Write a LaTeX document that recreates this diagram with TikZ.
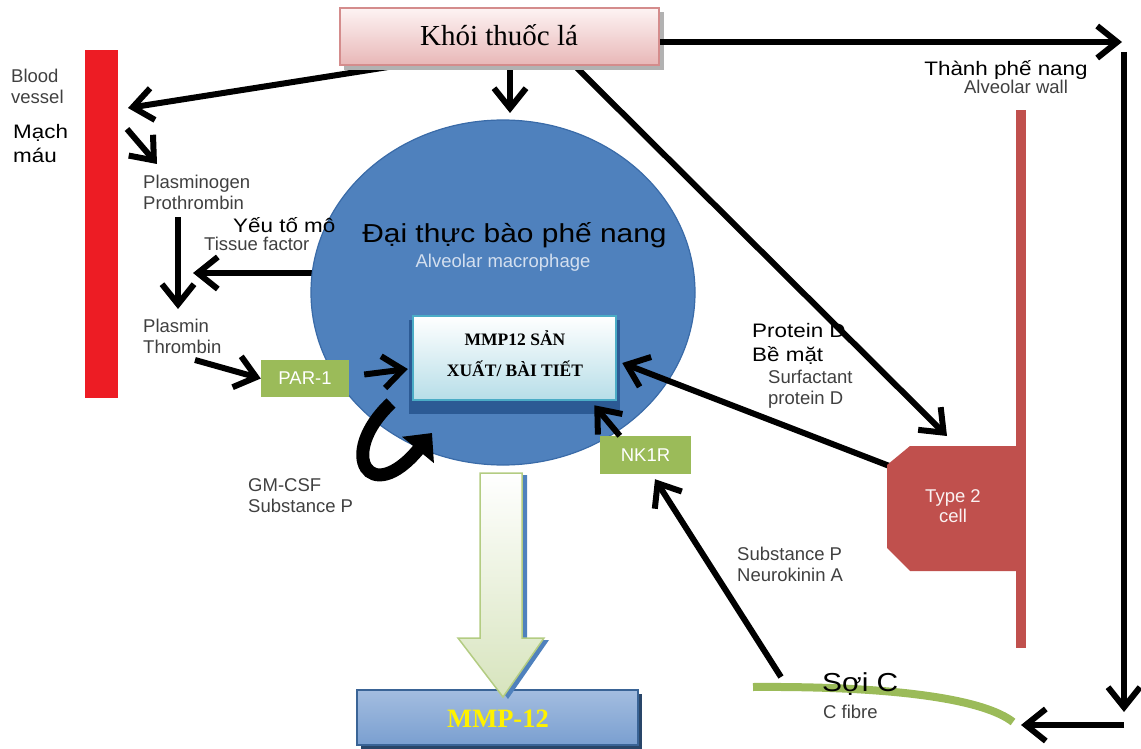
\documentclass[tikz,border=0pt]{standalone}
\usepackage{fontspec}
\setmainfont{Liberation Serif}
\setsansfont{Liberation Sans}
\newfontfamily\widesans[FakeStretch=1.15]{Liberation Sans}
\usetikzlibrary{arrows.meta,shapes.geometric,calc}

\definecolor{cellblue}{HTML}{4F81BD}
\definecolor{cellrim}{HTML}{3A6BA8}
\definecolor{leaf}{HTML}{9BBB59}
\definecolor{brick}{HTML}{C0504D}
\definecolor{vesselred}{HTML}{ED1C24}
\definecolor{labgray}{HTML}{404040}
\definecolor{pinktop}{HTML}{FDF3F3}
\definecolor{pinkbot}{HTML}{E8B7B7}
\definecolor{pinkrim}{HTML}{D48C8C}
\definecolor{icebot}{HTML}{B7DEE8}
\definecolor{icerim}{HTML}{4BACC6}
\definecolor{deepblue}{HTML}{2C5A94}
\definecolor{mintbot}{HTML}{D7E4BD}
\definecolor{mintrim}{HTML}{B3CC82}
\definecolor{steeltop}{HTML}{A3BDE0}
\definecolor{steelmid}{HTML}{4576B5}
\definecolor{steelbot}{HTML}{7A9FD0}
\definecolor{steelrim}{HTML}{3A6496}
\definecolor{macwhite}{HTML}{D3DFEF}

\begin{document}
\begin{tikzpicture}[x=1pt,y=-1pt,
  lbl/.style={font=\sffamily\fontsize{18.5}{21}\selectfont, text=labgray, align=left, inner sep=0pt},
  vnlbl/.style={font=\widesans\fontsize{19.5}{24}\selectfont, align=left, inner sep=0pt},
  biglbl/.style={font=\widesans\fontsize{26}{28}\selectfont, inner sep=0pt},
  arr/.style={line width=6pt, -{Straight Barb[length=20pt,width=32pt]}},
  chip/.style={fill=leaf, text=white, font=\sffamily\fontsize{18.5}{20}\selectfont, inner sep=0pt},
  boldtxt/.style={font=\rmfamily\bfseries\fontsize{17.5}{20}\selectfont, inner sep=0pt},
]
\useasboundingbox (0,0) rectangle (1141,749);

% ---- anchoring points for the connectors ----
\coordinate (smokeL) at (420,62);
\coordinate (smokeM) at (510,62);
\coordinate (smokeR) at (575,66);
\coordinate (vesTip) at (128,108);
\coordinate (macTop) at (510,113);
\coordinate (vesOut) at (127,129);
\coordinate (plgTip) at (157,164);
\coordinate (plgOut) at (178,217);
\coordinate (plmTip) at (178,309);
\coordinate (tfOut) at (330,273);
\coordinate (tfTip) at (193,273);
\coordinate (plmOut) at (195,360);
\coordinate (rightTip) at (1122,42);
\coordinate (cornerTop) at (1124,52);
\coordinate (cornerTip) at (1124,712);
\coordinate (cornerBot) at (1124,725);
\coordinate (fibreTip) at (1021,725);
\coordinate (t2Tip) at (947,436);
\coordinate (t2Out) at (892,467);
\coordinate (fibreOut) at (781,677);

% ---- blood vessel and alveolar wall ----
\node[fill=vesselred, minimum width=33pt, minimum height=348pt, inner sep=0pt] (vessel) at (101.5,224) {};
\node[fill=brick, minimum width=10pt, minimum height=538pt, inner sep=0pt] (wall) at (1021,379) {};

% ---- tissue factor arrow (starts beneath the macrophage) ----
\draw[arr] (tfOut) -- (tfTip);

% ---- alveolar macrophage ----
\node[ellipse, fill=cellblue, draw=cellrim, line width=1.2pt, minimum width=384pt, minimum height=345pt, inner sep=0pt] (mac) at (503,292.5) {};
\node[biglbl, anchor=base] (dai) at (514.5,242) {Đại thực bào phế nang};
\node[lbl, text=macwhite, anchor=base] (alv) at (503,267) {Alveolar macrophage};

% ---- MMP12 production box ----
\fill[deepblue] (409,320) rectangle (620,414);
\node[draw=icerim, line width=2.5pt, top color=white, bottom color=icebot, minimum width=203pt, minimum height=84pt, inner sep=0pt] (mmp) at (514.5,358) {};
\node[boldtxt, anchor=base] (mmpa) at (515,345) {MMP12 SẢN};
\node[boldtxt, anchor=base] (mmpb) at (515,376) {XUẤT/ BÀI TIẾT};

% ---- arrows leaving the smoke box (drawn first, box covers their roots) ----
\draw[arr] (smokeL) -- (vesTip);
\draw[arr] (smokeM) -- (macTop);
\draw[arr] (smokeR) -- (t2Tip);

% ---- smoke box ----
\fill[black!30] (344,12) rectangle (664,70);
\node[draw=pinkrim, line width=1.5pt, top color=pinktop, bottom color=pinkbot, minimum width=319pt, minimum height=57pt, inner sep=0pt] (khoi) at (499.5,36.5) {};
\node[font=\rmfamily\fontsize{29}{31}\selectfont, anchor=base, inner sep=0pt] (khoit) at (499,46) {Khói thuốc lá};

% ---- outer loop to the C fibre ----
\draw[arr] (khoi.east |- rightTip) -- (rightTip);
\draw[arr] (cornerTop) -- (cornerTip);
\draw[arr] (cornerBot) -- (fibreTip);

% ---- coagulation branch ----
\draw[arr] (vesOut) -- (plgTip);
\draw[arr] (plgOut) -- (plmTip);
\node[chip, minimum width=88pt, minimum height=37pt] (par) at (305,378.5) {PAR-1};
\draw[arr] (plmOut) -- (par.west);
\draw[arr] ($(par.east)+(15,-4)$) -- ($(mmp.west)+(-4,11)$);

% ---- GM-CSF / substance P loop ----
\draw[line width=13pt, -{Triangle[length=22pt,width=40pt]}] (391,403) .. controls (336,455) and (370,508) .. (432,433);

% ---- type 2 cell ----
\draw[arr] (t2Out) -- ($(mmp.east)+(5,5)$);
\fill[brick] (910,446) -- (1025,446) -- (1025,571) -- (910,571) -- (887,548) -- (887,465) -- cycle;
\node[lbl, text=white!92!brick, align=center, anchor=north, font=\sffamily\fontsize{18.5}{19.5}\selectfont] (t2) at (953,489.5) {Type 2\\cell};

% ---- NK1R and C fibre ----
\node[chip, minimum width=91pt, minimum height=38pt] (nk) at (645.5,455) {NK1R};
\draw[arr] ($(nk.north west)+(20,0)$) -- ($(mmp.south east)+(-23,4)$);
\draw[leaf, line width=8pt] (753,687) .. controls (900,686) and (985,700) .. (1013,722);
\draw[arr] (fibreOut) -- ($(nk.south)+(9.5,5)$);

% ---- product arrow and MMP-12 ----
\fill[steelrim!70!black] (361,694) rectangle (642,749);
\node[draw=steelrim, line width=1.2pt, top color=steeltop, middle color=steelmid, bottom color=steelbot, minimum width=281pt, minimum height=55pt, inner sep=0pt] (out) at (497.5,717.5) {};
\node[font=\rmfamily\bfseries\fontsize{26.5}{28}\selectfont, text=yellow, anchor=base, inner sep=0pt] (outt) at (498,727) {MMP-12};
\fill[cellblue] (485,475) -- (527,475) -- (527,640) -- (549,640) -- (508,699) -- (463,640) -- (485,640) -- cycle;
\draw[mintrim, line width=1.5pt, top color=white, bottom color=mintbot] (480,473) -- (522,473) -- (522,638) -- (544,638) -- (503,697) -- (458,638) -- (480,638) -- cycle;

% ---- labels ----
\node[lbl, anchor=north west] (bv) at (11,68.5) {Blood\\vessel};
\node[vnlbl, anchor=north west] (mach) at (13,124) {Mạch\\máu};
\node[lbl, anchor=north west] (plg) at (143,174.5) {Plasminogen\\Prothrombin};
\node[vnlbl, anchor=base west] (yeu) at (233,232) {Yếu tố mô};
\node[lbl, anchor=base west] (tis) at (204,250) {Tissue factor};
\node[lbl, anchor=north west] (plm) at (143,318.5) {Plasmin\\Thrombin};
\node[lbl, anchor=north west] (gm) at (248,478.5) {GM-CSF\\Substance P};
\node[vnlbl, anchor=base] (thanh) at (1006,76) {Thành phế nang};
\node[lbl, anchor=base] (aw) at (1016,94) {Alveolar wall};
\node[vnlbl, anchor=north west] (prot) at (752,323) {Protein D\\Bề mặt};
\node[lbl, anchor=north west] (surf) at (768,369.5) {Surfactant\\protein D};
\node[lbl, anchor=north west] (subp) at (737,546.5) {Substance P\\Neurokinin A};
\node[biglbl, anchor=base west] (soic) at (822,691) {Sợi C};
\node[lbl, anchor=base west] (cf) at (823,718) {C fibre};
\end{tikzpicture}
\end{document}
